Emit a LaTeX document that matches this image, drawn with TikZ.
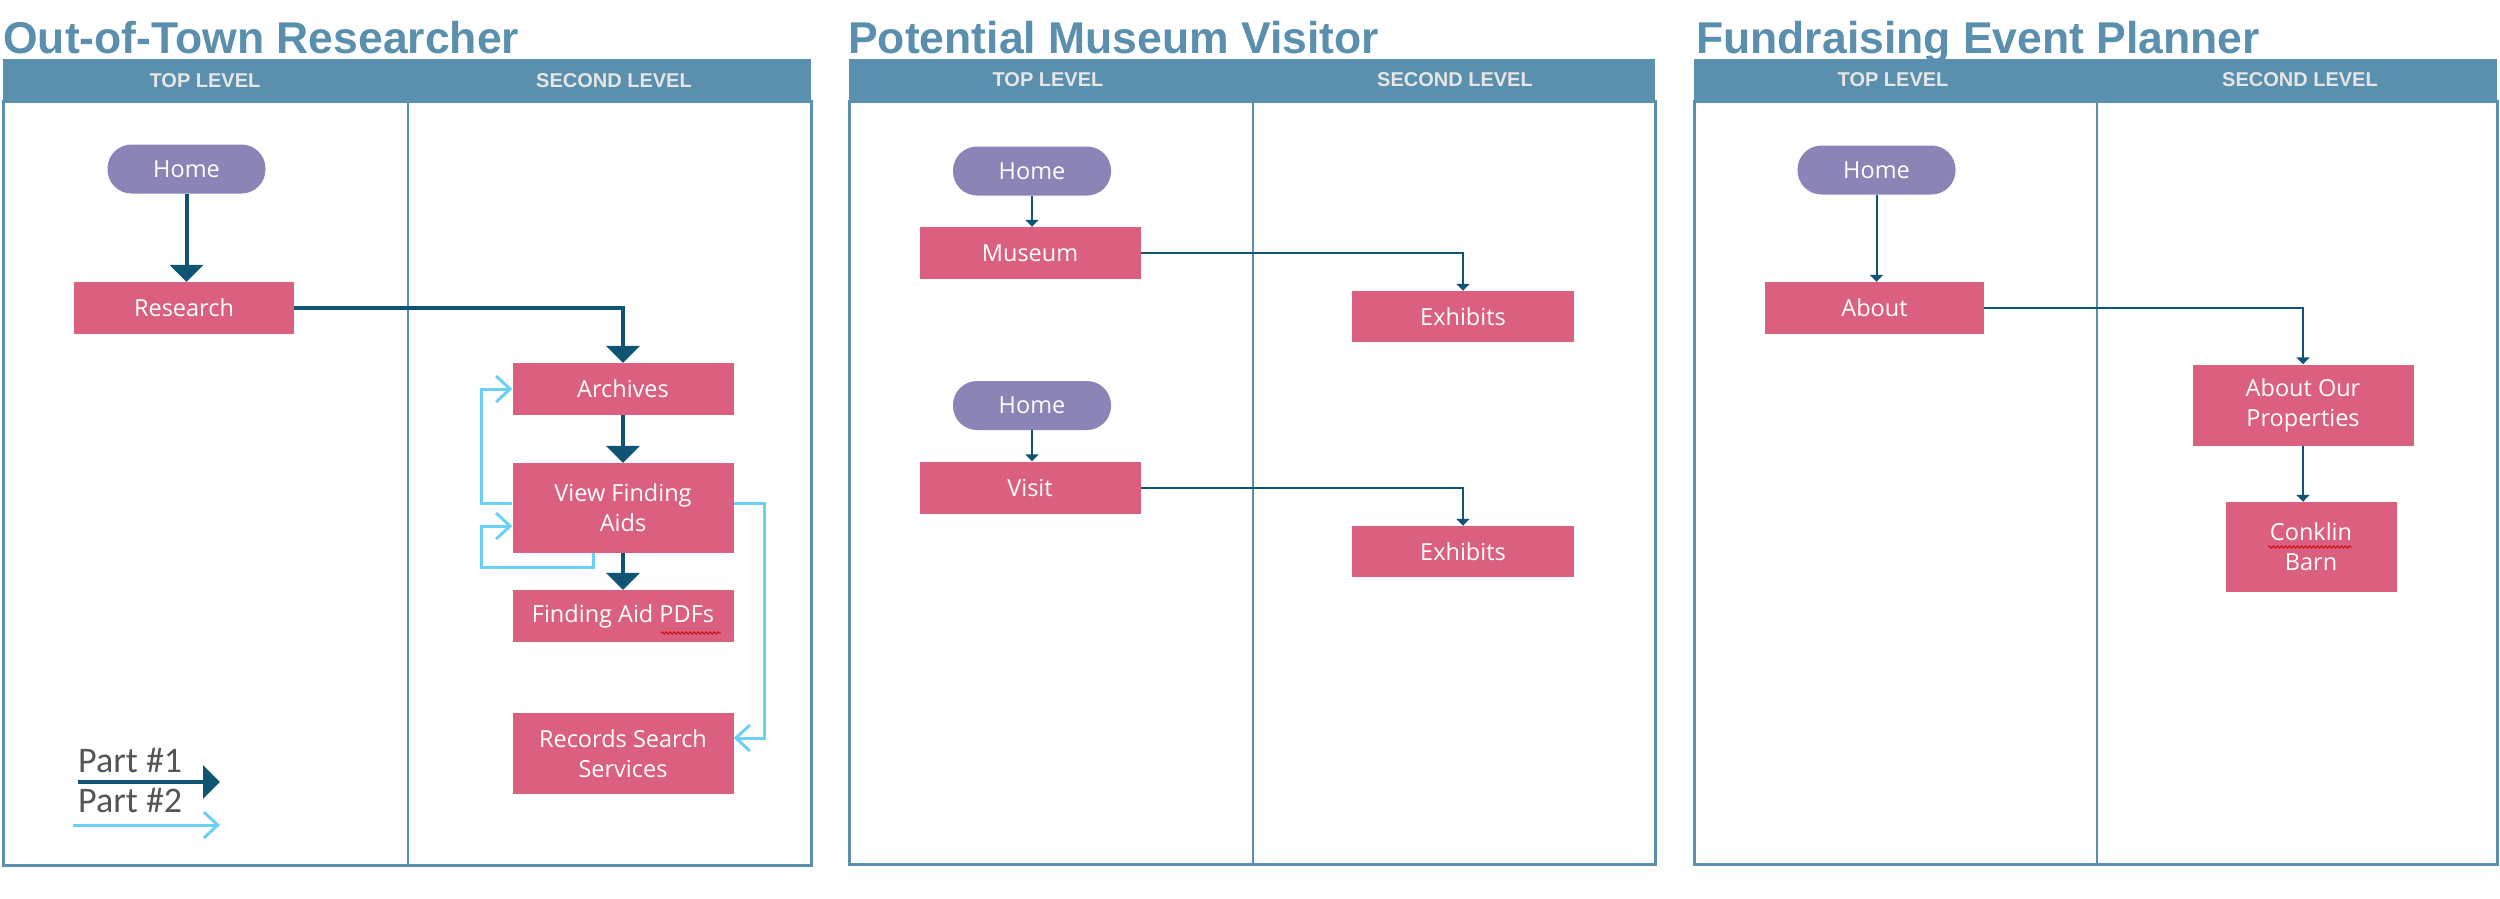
\documentclass[tikz,border=0pt]{standalone}
\usepackage{fontspec}
\setmainfont{Open Sans}
\newfontfamily\titlefont{Liberation Sans}
\newfontfamily\legfont{Carlito}
\usetikzlibrary{arrows.meta,decorations.pathmorphing}
\definecolor{barblue}{HTML}{5A8FAE}
\definecolor{pinkbox}{HTML}{DB5F7E}
\definecolor{purplepill}{HTML}{8A84B7}
\definecolor{darkarrow}{HTML}{0F5573}
\definecolor{lightarrow}{HTML}{6CCFF6}
\definecolor{headtext}{HTML}{E6E6E6}
\definecolor{legtext}{HTML}{555555}
\begin{document}
\begin{tikzpicture}[x=1pt,y=-1pt,
  boxtext/.style={font=\fontsize{23.5}{30}\selectfont, text=white, align=center},
  pagebox/.style={boxtext, rectangle, fill=pinkbox, inner sep=0pt, minimum width=221pt, minimum height=52pt},
  pill/.style={boxtext, rectangle, rounded corners=24pt, fill=purplepill, inner sep=0pt, minimum width=158pt, minimum height=49pt},
  dk/.style={draw=darkarrow, line width=4pt, -{Triangle[length=17pt,width=33pt]}},
  lt/.style={draw=lightarrow, line width=3pt, -{Straight Barb[length=14pt,width=26pt,line width=3pt]}},
  thinarr/.style={draw=darkarrow, line width=2pt, -{Triangle[length=7pt,width=13pt]}},
  titlelab/.style={anchor=base west, inner sep=0pt, text=barblue, font=\titlefont\bfseries\fontsize{44.5}{50}\selectfont},
  headlab/.style={inner sep=0pt, text=headtext, font=\titlefont\bfseries\fontsize{20}{24}\selectfont},
  framebar/.style={fill=barblue},
  frameline/.style={draw=barblue, line width=3pt},
  divline/.style={draw=barblue, line width=2.5pt},
  leglab/.style={anchor=base west, inner sep=0pt, text=legtext, font=\legfont\fontsize{36}{40}\selectfont},
  squiggle/.style={draw=red!80!black, line width=0.8pt, decorate, decoration={snake, amplitude=1.2pt, segment length=4pt}}
]
\useasboundingbox (0,0) rectangle (2500,898);

% ---------- Panel 1 ----------
\node[titlelab] (t1) at (3,53) {Out-of-Town Researcher};
\fill[framebar] (3,59) rectangle (811,101);
\draw[frameline] (3,101) rectangle (811,865);
\draw[divline] (408,101) -- (408,865);
\node[headlab] (h1a) at (205,81) {TOP LEVEL};
\node[headlab] (h1b) at (614,81) {SECOND LEVEL};

\node[pill] (home1) at (186.5,169) {Home};
\node[pagebox, minimum width=220pt] (research) at (184,308) {Research};
\node[pagebox] (archives) at (623,389) {Archives};
\node[pagebox, minimum height=90pt] (vfa) at (623,508) {View Finding\\Aids};
\node[pagebox] (pdfs) at (623,616) {Finding Aid PDFs};
\node[pagebox, minimum height=81pt] (rss) at (623,753.5) {Records Search\\Services};
\draw[squiggle] (661,633) -- (721,633);

\draw[dk] (home1.south) -- (home1.south |- research.north);
\draw[dk] (research.east) -| (archives.north);
\draw[dk] (archives) -- (vfa);
\draw[dk] (vfa) -- (pdfs);

\draw[lt] ([yshift=5pt]vfa.west) -- ++(-31,0) |- (archives.west);
\draw[lt] ([xshift=-30pt]vfa.south) -- ++(0,14) -- ++(-112,0) |- ([yshift=-18pt]vfa.west);
\draw[lt] ([yshift=5pt]vfa.east) -- ++(31,0) |- ([yshift=15.5pt]rss.east);

\node[leglab] (leg1) at (78,772) {Part \#1};
\node[leglab] (leg2) at (78,812) {Part \#2};
\coordinate (l1a) at (78,782);
\coordinate (l1b) at (220,782);
\coordinate (l2a) at (73,825);
\coordinate (l2b) at (220,825);
\draw[dk] (l1a) -- (l1b);
\draw[lt] (l2a) -- (l2b);

% ---------- Panel 2 ----------
\node[titlelab] (t2) at (848,53) {Potential Museum Visitor};
\fill[framebar] (849,59) rectangle (1655,101);
\draw[frameline] (849,101) rectangle (1655,864);
\draw[divline] (1253,101) -- (1253,864);
\node[headlab] (h2a) at (1048,80) {TOP LEVEL};
\node[headlab] (h2b) at (1455,80) {SECOND LEVEL};

\node[pill] (home2a) at (1032,171) {Home};
\node[pagebox] (museum) at (1030,253) {Museum};
\node[pagebox, minimum width=222pt, minimum height=51pt] (ex1) at (1463,316.5) {Exhibits};
\node[pill] (home2b) at (1032,405.5) {Home};
\node[pagebox] (visit) at (1030,487.5) {Visit};
\node[pagebox, minimum width=222pt, minimum height=51pt] (ex2) at (1463,551.5) {Exhibits};

\draw[thinarr] (home2a.south) -- (home2a.south |- museum.north);
\draw[thinarr] (museum.east) -| (ex1.north);
\draw[thinarr] (home2b.south) -- (home2b.south |- visit.north);
\draw[thinarr] (visit.east) -| (ex2.north);

% ---------- Panel 3 ----------
\node[titlelab] (t3) at (1696,53) {Fundraising Event Planner};
\fill[framebar] (1694,59) rectangle (2497,101);
\draw[frameline] (1694,101) rectangle (2497,864);
\draw[divline] (2097,101) -- (2097,864);
\node[headlab] (h3a) at (1893,80) {TOP LEVEL};
\node[headlab] (h3b) at (2300,80) {SECOND LEVEL};

\node[pill] (home3) at (1876.5,170) {Home};
\node[pagebox, minimum width=219pt] (about) at (1874.5,308) {About};
\node[pagebox, minimum height=81pt] (aop) at (2303,405) {About Our\\Properties};
\node[pagebox, minimum width=171pt, minimum height=90pt] (conklin) at (2311,547) {Conklin\\Barn};
\draw[squiggle] (2268,547) -- (2352,547);

\draw[thinarr] (home3.south) -- (home3.south |- about.north);
\draw[thinarr] (about.east) -| (aop.north);
\draw[thinarr] (aop.south) -- (aop.south |- conklin.north);
\end{tikzpicture}
\end{document}
